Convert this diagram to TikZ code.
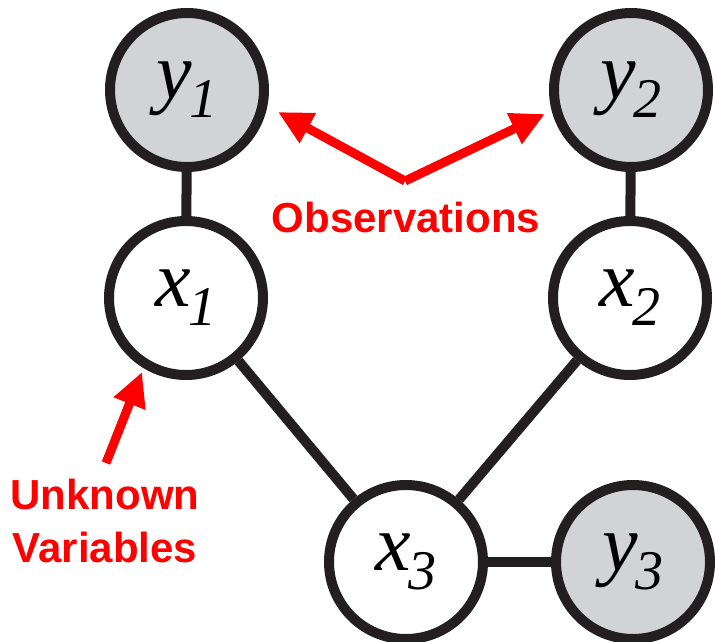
\documentclass[tikz,border=0pt]{standalone}
\usepackage{fontspec}
\setmainfont{Liberation Serif}
\newfontfamily\redfont{Liberation Sans}
\usetikzlibrary{arrows.meta}
\definecolor{obsgray}{HTML}{D1D3D4}
\definecolor{nodeline}{HTML}{231F20}
\newcommand{\lab}[2]{{\fontsize{80}{80}\selectfont\itshape #1}\kern-2pt\raisebox{-19pt}{\fontsize{56}{56}\selectfont\itshape #2}}
\tikzset{
  var/.style={circle, draw=nodeline, line width=10pt, minimum size=154pt, inner sep=0pt, fill=white},
  obsvar/.style={var, fill=obsgray},
  edge/.style={draw=nodeline, line width=10pt},
  redtext/.style={text=red, font=\redfont\bfseries\fontsize{42}{53}\selectfont, align=center, inner sep=0pt},
  redarrow/.style={draw=red, line width=9pt, -{Triangle[length=34pt,width=32pt]}},
}
\begin{document}
\begin{tikzpicture}[x=1pt,y=-1pt]
\useasboundingbox (0,0) rectangle (715,642);
% nodes
\node[obsvar] (y1) at (187,90) {\lab{y}{1}};
\node[var]    (x1) at (186,298) {\lab{x}{1}};
\node[obsvar] (y2) at (631,90) {\lab{y}{2}};
\node[var]    (x2) at (630,298) {\lab{x}{2}};
\node[var]    (x3) at (406,562) {\lab{x}{3}};
\node[obsvar] (y3) at (633,562) {\lab{y}{3}};
% edges (behind nodes)
\begin{scope}[on background layer/.try]
\end{scope}
\draw[edge] (y1) -- (x1);
\draw[edge] (y2) -- (x2);
\draw[edge] (x1) -- (x3);
\draw[edge] (x2) -- (x3);
\draw[edge] (x3) -- (y3);
% labels
\node[redtext] (obs) at (406,217) {Observations};
\node[redtext] (unk) at (105,521) {Unknown\\Variables};
% arrows
\coordinate (apex) at (405,181);
\coordinate (tipL) at (278,112);
\coordinate (tipR) at (545,114);
\coordinate (utail) at (106,463);
\coordinate (utip) at (142,372);
\draw[redarrow] (apex) -- (tipL);
\draw[redarrow] (apex) -- (tipR);
\draw[redarrow] (utail) -- (utip);
\end{tikzpicture}
\end{document}
